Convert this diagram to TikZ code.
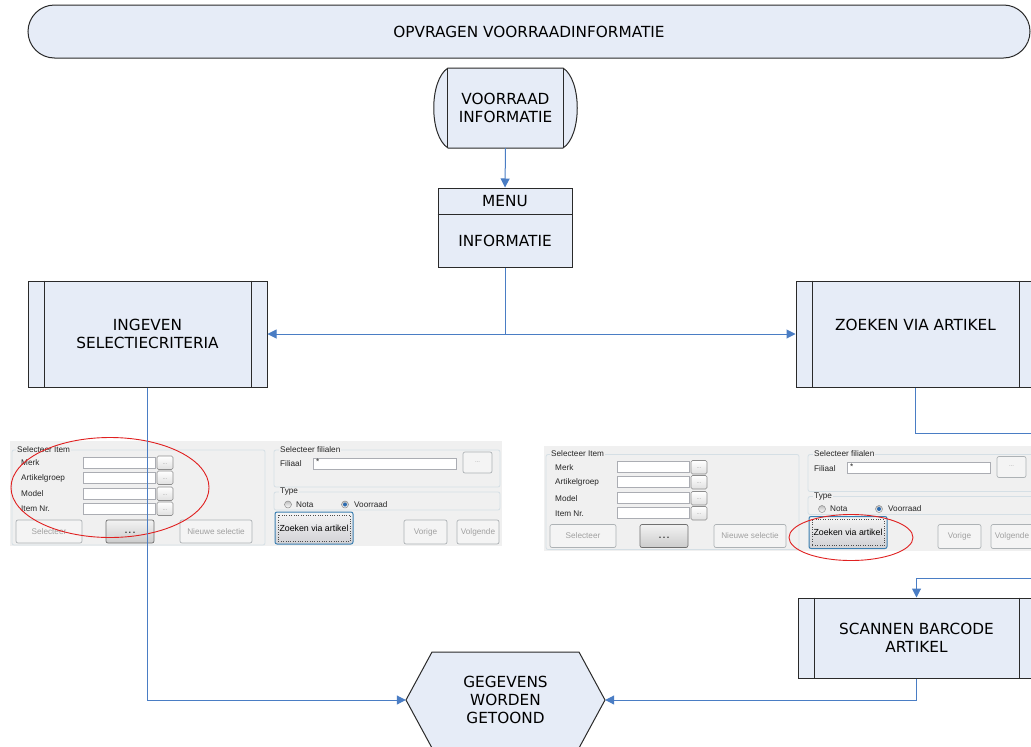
\documentclass[tikz,border=0pt]{standalone}
\usepackage{fontspec}
\setmainfont{DejaVu Sans}
\newfontfamily\uifont{Liberation Sans}
\usetikzlibrary{arrows.meta,calc}
\definecolor{boxfill}{HTML}{E6ECF7}
\definecolor{connblue}{HTML}{4A7DC4}
\definecolor{boxline}{HTML}{2A2A2A}
\definecolor{uibg}{HTML}{F0F0F0}
\definecolor{uigroupline}{HTML}{D5DFE5}
\definecolor{tbline}{HTML}{ABADB3}
\definecolor{disline}{HTML}{ADB2B5}
\definecolor{disfill}{HTML}{F4F4F4}
\definecolor{distext}{HTML}{A0A0A0}
\definecolor{btnline}{HTML}{707070}
\definecolor{focusline}{HTML}{3C7FB1}
\definecolor{radiodot}{HTML}{2C6BB0}
\definecolor{ellred}{HTML}{E02020}

\newcommand\drawUIform{%
  \fill[uibg] (10,441) rectangle (502,546);
  % group Selecteer Item
  \draw[uigroup] (12,450) rectangle (265,545);
  \node[uitext, fill=uibg, inner xsep=1pt] (t1) at (16,449.5) {Selecteer Item};
  \node[uitext] (lmerk) at (21,463) {Merk};
  \node[uitext] (lart) at (21,478) {Artikelgroep};
  \node[uitext] (lmodel) at (21,494) {Model};
  \node[uitext] (litem) at (21,509) {Item Nr.};
  \foreach \yy/\nn in {457/a,472/b,488/c,503/d}{
    \draw[tbox] (83,\yy) rectangle (155,{\yy+11});
    \draw[smallbtn] (157,{\yy-1}) rectangle (173,{\yy+12.5});
    \node[uitext, anchor=center, text=distext, font=\uifont\fontsize{6}{6}\selectfont] (dots\nn) at (165,{\yy+7}) {...};
  }
  \draw[disbtn] (16,520) rectangle (82,543);
  \node[uitext, anchor=center, text=distext] (bsel) at (49,531.5) {Selecteer};
  \draw[btn] (106,520) rectangle (154,543);
  \node[uitext, anchor=center, text=black!80, font=\uifont\bfseries\fontsize{9}{9}\selectfont] (bdots) at (130,533) {.\,.\,.};
  \draw[disbtn] (180,520) rectangle (252,543);
  \node[uitext, anchor=center, text=distext] (bnieuw) at (216,531.5) {Nieuwe selectie};
  % group Selecteer filialen
  \draw[uigroup] (274,450) rectangle (500,487);
  \node[uitext, fill=uibg, inner xsep=1pt] (t2) at (279,449.5) {Selecteer filialen};
  \node[uitext] (lfil) at (280,464) {Filiaal};
  \draw[tbox] (313,458) rectangle (456,469);
  \node[uitext] (star) at (316,462) {*};
  \draw[disbtn] (463,452) rectangle (492,473);
  \node[uitext, anchor=center, text=distext, font=\uifont\fontsize{6}{6}\selectfont] (fdots) at (477.5,462) {...};
  % group Type
  \draw[uigroup] (274,492) rectangle (500,510);
  \node[uitext, fill=uibg, inner xsep=1pt] (t3) at (279,492) {Type};
  \draw[radio] (288,504.5) circle[radius=3.5pt];
  \node[uitext] (lnota) at (296,504.5) {Nota};
  \draw[radio] (345,504.5) circle[radius=3.5pt];
  \fill[radiodot] (345,504.5) circle[radius=2pt];
  \node[uitext] (lvoor) at (354,504.5) {Voorraad};
  % buttons
  \draw[focusbtn] (275,512) rectangle (353,544);
  \draw[dotted, line width=0.4pt, black!70] (278,515) rectangle (350,541);
  \node[uitext, anchor=center, text=black, font=\uifont\fontsize{8.8}{9}\selectfont] (bzoek) at (314,528) {Zoeken via artikel};
  \draw[disbtn] (404,520) rectangle (447,544);
  \node[uitext, anchor=center, text=distext] (bvor) at (425.5,532) {Vorige};
  \draw[disbtn] (457,520) rectangle (499,544);
  \node[uitext, anchor=center, text=distext] (bvol) at (478,532) {Volgende};
}

\begin{document}
\begin{tikzpicture}[x=1pt,y=-1pt,
  mainfont/.style={font=\fontsize{15.3}{18}\selectfont},
  box/.style={draw=boxline, line width=1pt, fill=boxfill, rectangle, inner sep=0pt, align=center, mainfont},
  txt/.style={inner sep=0pt, align=center, mainfont},
  connline/.style={draw=connblue, line width=1pt},
  arr/.style={connline, -{Triangle[length=9pt,width=9pt]}},
  uitext/.style={font=\uifont\fontsize{8.2}{9}\selectfont, inner sep=0pt, anchor=west, text=black!85},
  uigroup/.style={draw=uigroupline, line width=0.8pt, rounded corners=2pt},
  tbox/.style={draw=tbline, fill=white, line width=0.7pt},
  smallbtn/.style={draw=btnline!80, top color=white, bottom color=black!12, line width=0.6pt, rounded corners=1.5pt},
  disbtn/.style={draw=disline, fill=disfill, line width=0.7pt, rounded corners=2pt},
  btn/.style={draw=btnline, top color=black!5, bottom color=black!20, line width=0.7pt, rounded corners=2pt},
  focusbtn/.style={draw=focusline, top color=black!4, bottom color=blue!8!black!18, line width=1pt, rounded corners=2pt},
  radio/.style={draw=black!45, top color=black!25, bottom color=white, line width=0.5pt},
  ellipseline/.style={draw=ellred, line width=0.9pt},
  divline/.style={draw=boxline, line width=1pt}
]
\useasboundingbox (0,0) rectangle (1031,747);
\clip (0,0) rectangle (1031,747);
\fill[white] (0,0) rectangle (1031,747);

% title banner
\node[box, rounded corners=26.5pt, minimum width=1002pt, minimum height=53pt] (banner) at (529,31.5) {OPVRAGEN VOORRAADINFORMATIE};

% voorraad informatie (terminal-like shape)
\draw[divline, fill=boxfill]
  (448,68) -- (563,68) .. controls (582,80) and (582,136) .. (563,148)
  -- (448,148) .. controls (429,136) and (429,80) .. (448,68) -- cycle;
\node[txt, minimum width=115pt, minimum height=80pt] (voorraad) at (505.5,108) {VOORRAAD\\INFORMATIE};
\draw[divline] (voorraad.north west) -- (voorraad.south west);
\draw[divline] (voorraad.north east) -- (voorraad.south east);

% menu
\node[box, minimum width=134pt, minimum height=79pt] (menu) at (505,227.5) {};
\coordinate (menudiv) at (0,214);
\draw[divline] (menu.west |- menudiv) -- (menu.east |- menudiv);
\node[txt] (menutitle) at (505,201) {MENU};
\node[txt] (menubody) at (505,241) {INFORMATIE};

% process boxes
\node[box, minimum width=239pt, minimum height=106pt] (ingeven) at (147.5,334) {INGEVEN\\SELECTIECRITERIA};
\node[box, minimum width=239pt, minimum height=106pt] (zoeken) at (915.5,334) {ZOEKEN VIA ARTIKEL\\\mbox{}};
\node[box, minimum width=237pt, minimum height=80pt] (scannen) at (916.5,638) {SCANNEN BARCODE\\ARTIKEL};
\foreach \bx in {ingeven,zoeken,scannen}{
  \draw[divline] ([xshift=16.5pt]\bx.north west) -- ([xshift=16.5pt]\bx.south west);
  \draw[divline] ([xshift=-16.5pt]\bx.north east) -- ([xshift=-16.5pt]\bx.south east);
}

% screenshots
\begin{scope}[name prefix=L-]
  \drawUIform
\end{scope}
\begin{scope}[name prefix=R-, shift={(534,4.5)}]
  \drawUIform
\end{scope}
\draw[ellipseline] (110,487.5) ellipse [x radius=99pt, y radius=50pt];
\draw[ellipseline] (851,537.5) ellipse [x radius=62pt, y radius=23pt];

% hexagon
\draw[divline, fill=boxfill]
  (406,700) -- (432,652) -- (579,652) -- (605,700) -- (579,748) -- (432,748) -- cycle;
\node[txt, minimum width=199pt, minimum height=96pt] (gegevens) at (505.5,700) {GEGEVENS\\WORDEN\\GETOOND};

% connectors
\coordinate (j1) at (505,334);
\coordinate (zout) at (1040,433);
\coordinate (zin) at (1040,578);
\draw[arr] (voorraad.south) -- (menu.north);
\draw[connline] (menu.south) -- (j1);
\draw[arr] (j1) -- (ingeven.east);
\draw[arr] (j1) -- (zoeken.west);
\draw[connline] (zoeken.south) |- (zout);
\draw[arr] (zin) -| (scannen.north);
\draw[arr] (scannen.south) |- (gegevens.east);
\draw[arr] (ingeven.south) |- (gegevens.west);
\end{tikzpicture}
\end{document}
